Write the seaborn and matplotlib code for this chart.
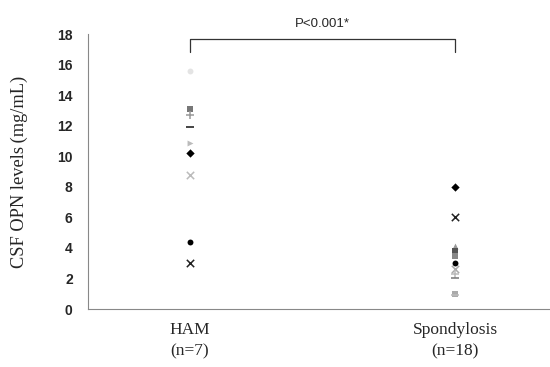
import matplotlib
matplotlib.use("Agg")
import matplotlib.pyplot as plt
import seaborn as sns
import pandas as pd

groups = ["HAM", "Spondylosis"]
ham_values = [15.6, 13.1, 12.7, 11.9, 10.9, 10.2, 8.8, 4.4, 3.0]
ham_markers = ["o", "s", "+", "_", ">", "D", "x", "o", "x"]
ham_shades = ["#e4e4e4", "#777777", "#999999", "#111111", "#bbbbbb", "#000000", "#bbbbbb", "#000000", "#222222"]
spon_values = [8.0, 6.0, 4.1, 3.8, 3.5, 3.0, 2.6, 2.3, 2.0, 1.0, 0.9]
spon_markers = ["D", "x", "^", "s", "s", "o", "x", "+", "_", "s", "_"]
spon_shades = ["#000000", "#222222", "#999999", "#555555", "#888888", "#000000", "#aaaaaa", "#bbbbbb", "#777777", "#aaaaaa", "#bbbbbb"]
yticks = [0, 2, 4, 6, 8, 10, 12, 14, 16, 18]
xlabels = ["HAM\n(n=7)", "Spondylosis\n(n=18)"]
p_text = "P<0.001*"

rows = []
for g, vals, mk, sh in [(0, ham_values, ham_markers, ham_shades), (1, spon_values, spon_markers, spon_shades)]:
    for v, m, c in zip(vals, mk, sh):
        rows.append({"group": g, "value": v, "marker": m, "color": c})
df = pd.DataFrame(rows)

sns.set_style("white")
fig = plt.figure(figsize=(5.5, 3.67), dpi=100)
ax = fig.add_axes([0.16, 0.158, 0.84, 0.749])

for r in df.itertuples():
    sub = df.loc[[r.Index]]
    size = 18 if r.marker in ("s", "D", "o", "^", ">") else 28
    sns.scatterplot(data=sub, x="group", y="value", marker=r.marker, color=r.color,
                    s=size, linewidth=1.1 if r.marker in ("x", "+", "_") else 0,
                    legend=False, ax=ax)

ax.set_xlim(-0.385, 1.358)
ax.set_ylim(0, 18)
ax.set_yticks(yticks)
ax.set_yticklabels([str(t) for t in yticks], fontfamily="Liberation Sans", fontweight="bold", fontsize=10)
ax.set_xticks([0, 1])
ax.set_xticklabels(xlabels, fontfamily="Liberation Serif", fontsize=12.5, linespacing=1.45)
ax.set_xlabel("")
ax.set_ylabel("CSF OPN levels\u2009(mg/mL)", fontfamily="Liberation Serif", fontsize=13.2, labelpad=21)
ax.tick_params(axis="y", direction="in", length=3, width=0.6, color="#777777", pad=11)
ax.tick_params(axis="x", length=0, pad=9)
for s in ["top", "right"]:
    ax.spines[s].set_visible(False)
for s in ["left", "bottom"]:
    ax.spines[s].set_color("#888888")
    ax.spines[s].set_linewidth(0.8)

ax.plot([0, 0, 1, 1], [16.8, 17.7, 17.7, 16.8], color="#333333", lw=0.9, clip_on=False)
ax.text(0.5, 18.25, p_text, ha="center", va="bottom", fontfamily="Liberation Sans", fontsize=9.5)

fig.savefig("out.png", dpi=100)
